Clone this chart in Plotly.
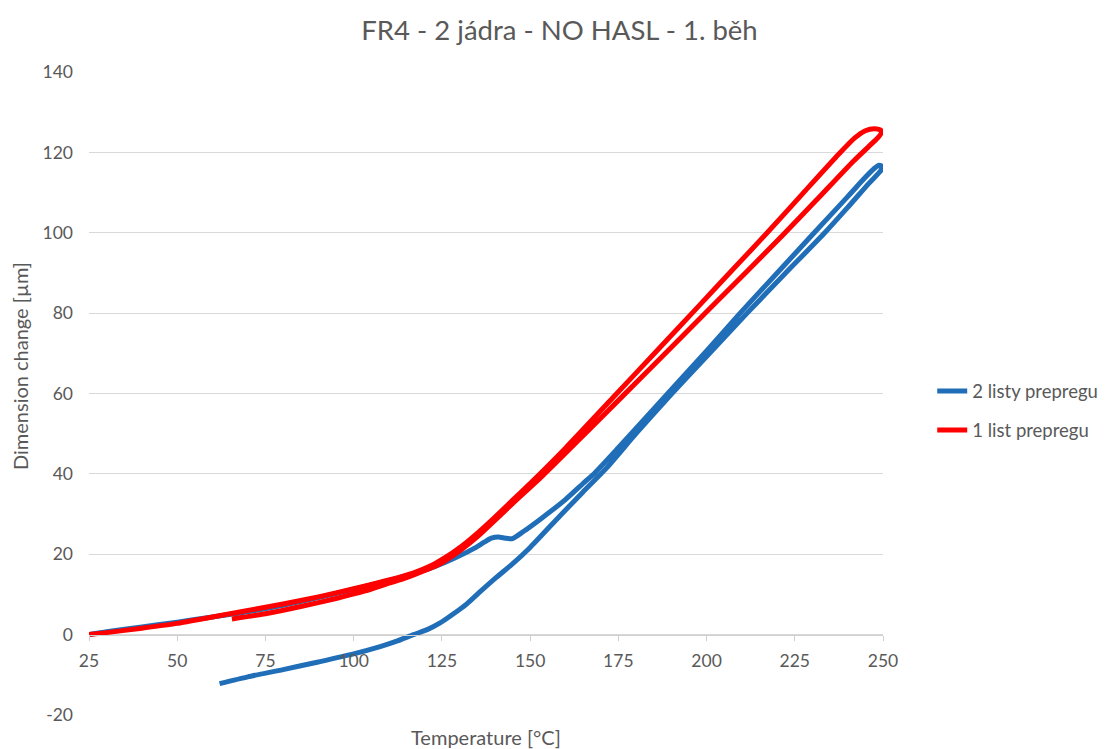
import plotly.graph_objects as go

# Dilatometer run: heating up to ~250 °C and cooling back
series_names = ["2 listy prepregu", "1 list prepregu"]
series_colors = ["#1F6EB7", "#FF0000"]

# 2 listy prepregu: heating branch, then cooling branch
temp_2 = [25, 30, 40, 50, 60, 70, 80, 90, 100, 110, 117, 122, 126, 130, 134, 137,
          139, 141, 143, 145, 148, 153, 160, 165, 168.4, 175, 188.5, 200, 209,
          220, 230.5, 240, 245, 247.5, 248.9, 249.7,
          249.4, 246, 240, 233.5, 222, 211.5, 200, 190, 180, 171.7, 165, 158.5,
          150, 145, 140.5, 136, 132, 128, 124.5, 121, 117, 112, 107.5, 100, 90,
          80, 70, 62]
dim_2 = [0, 0.7, 1.9, 3.1, 4.4, 5.7, 7.3, 9.2, 11.3, 13.5, 15.2, 16.6, 18.0, 19.6,
         21.4, 23.0, 24.0, 24.3, 24.0, 23.9, 25.6, 28.8, 33.6, 37.6, 40.3, 46.5,
         59.5, 70.6, 79.5, 90.0, 100.0, 109.0, 113.8, 116.0, 116.8, 116.5,
         115.5, 112.3, 106.3, 100.0, 89.6, 80.0, 69.2, 59.8, 50.0, 41.5, 35.5,
         29.6, 21.7, 17.6, 14.3, 10.8, 7.6, 5.0, 2.9, 1.3, 0.0, -1.7, -3.0, -4.8,
         -6.8, -8.7, -10.5, -12.2]

# 1 list prepregu: heating branch, then cooling branch
temp_1 = [25, 30, 40, 50, 60, 70, 80, 90, 100, 110, 117, 122, 126, 130, 135, 140,
          145, 150, 160, 173.5, 186, 197.5, 207.5, 217.5, 227.5, 237.5, 242, 245,
          247.5, 249.2, 249.6,
          248.5, 246, 241.6, 231, 221.5, 211, 201, 188, 176.5, 165, 153.5, 145,
          140, 135, 130, 125, 120, 115, 110, 103, 95, 85, 75, 65.5]
dim_1 = [0, 0.5, 1.6, 2.8, 4.4, 6.0, 7.6, 9.4, 11.4, 13.6, 15.4, 17.2, 19.2, 21.6,
         25.2, 29.2, 33.4, 37.6, 46.4, 59.0, 70.7, 81.5, 90.9, 100.3, 110.0,
         119.6, 123.6, 125.4, 125.9, 125.6, 125.0,
         123.6, 121.5, 117.8, 108.0, 99.3, 90.0, 81.2, 69.7, 59.6, 49.5, 39.5,
         32.6, 28.4, 24.3, 20.8, 17.9, 15.9, 14.2, 12.8, 10.8, 9.0, 7.0, 5.2, 3.9]

x_ticks = [25, 50, 75, 100, 125, 150, 175, 200, 225, 250]
y_ticks = [-20, 0, 20, 40, 60, 80, 100, 120, 140]

title_text = "FR4 - 2 jádra - NO HASL - 1. běh"
x_title = "Temperature [°C]"
y_title = "Dimension change [µm]"

FONT = "Lato, 'Open Sans', sans-serif"
GREY = "#595959"

fig = go.Figure()
for name, color, xs, ys in [
    (series_names[0], series_colors[0], temp_2, dim_2),
    (series_names[1], series_colors[1], temp_1, dim_1),
]:
    fig.add_trace(go.Scatter(
        x=xs, y=ys, name=name, mode="lines", legendgroup=name,
        line=dict(color=color, width=5, shape="spline", smoothing=0.6),
    ))

fig.update_layout(
    width=1119, height=749,
    margin=dict(l=89, r=236, t=72, b=34, autoexpand=False),
    paper_bgcolor="white", plot_bgcolor="white",
    showlegend=True,
    legend=dict(
        x=1.062, y=0.473, xanchor="left", yanchor="middle",
        font=dict(family=FONT, size=18.5, color=GREY),
        tracegroupgap=12, itemwidth=30,
        bgcolor="rgba(0,0,0,0)",
    ),
    title=dict(
        text=title_text, x=0.5, xref="container", xanchor="center",
        y=1 - 30 / 749, yanchor="middle",
        font=dict(family=FONT, size=27.5, color=GREY),
    ),
    xaxis=dict(
        range=[25, 250], tickvals=x_ticks, ticktext=[str(v) for v in x_ticks],
        showgrid=False, zeroline=False,
        showline=True, linecolor="#D0D0D0", linewidth=1.2,
        ticks="outside", ticklen=5, tickcolor="#D0D0D0",
        anchor="free", position=20 / 160,
        ticklabelstandoff=5,
        tickfont=dict(family=FONT, size=17.5, color=GREY),
    ),
    yaxis=dict(
        range=[-20, 140], tickvals=y_ticks, ticktext=[str(v) for v in y_ticks],
        showgrid=True, gridcolor="#D9D9D9", gridwidth=1.2,
        zeroline=False, showline=False, ticks="",
        ticklabelstandoff=15,
        tickfont=dict(family=FONT, size=17.5, color=GREY),
    ),
    annotations=[
        dict(text=x_title, xref="paper", yref="paper", x=0.5, y=-22 / 643,
             xanchor="center", yanchor="middle", showarrow=False,
             font=dict(family=FONT, size=20, color=GREY)),
        dict(text=y_title, xref="paper", yref="paper", x=-69 / 794, y=(715 - 366) / 643,
             xanchor="center", yanchor="middle", showarrow=False, textangle=-90,
             font=dict(family=FONT, size=20, color=GREY)),
    ],
)

fig.write_html("out.html")
